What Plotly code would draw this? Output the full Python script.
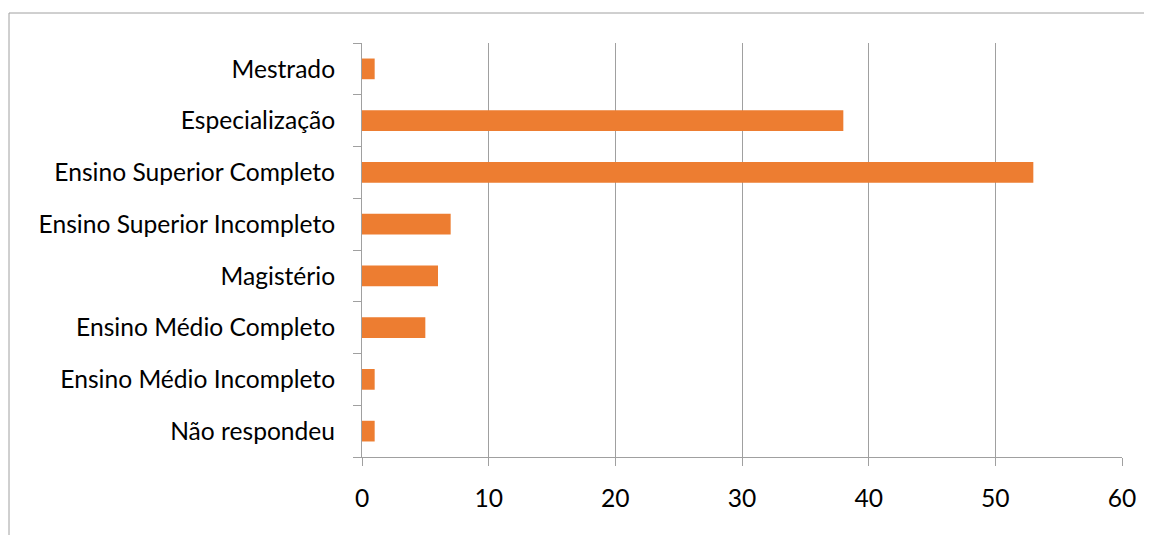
import plotly.graph_objects as go

categories = ["Não respondeu", "Ensino Médio Incompleto", "Ensino Médio Completo",
              "Magistério", "Ensino Superior Incompleto", "Ensino Superior Completo",
              "Especialização", "Mestrado"]
values = [1, 1, 5, 6, 7, 53, 38, 1]
x_ticks = [0, 10, 20, 30, 40, 50, 60]

fig = go.Figure(go.Bar(
    x=values, y=categories, orientation="h",
    marker=dict(color="#ED7D31", line=dict(width=0)),
))

fig.update_layout(
    width=1144, height=527,
    margin=dict(l=354, r=30, t=35, b=78),
    paper_bgcolor="white", plot_bgcolor="white",
    bargap=0.6, showlegend=False,
    font=dict(family="Lato", size=24.6, color="#000000"),
)
fig.update_xaxes(
    range=[0, 60], tickvals=x_ticks, showgrid=True, gridcolor="#A0A0A0", gridwidth=1,
    showline=True, linecolor="#A0A0A0", linewidth=1,
    ticks="outside", ticklen=8, tickcolor="#A0A0A0",
    zeroline=False, ticklabelstandoff=11,
)
fig.update_yaxes(
    categoryorder="array", categoryarray=categories,
    showline=True, linecolor="#A0A0A0", linewidth=1,
    ticks="outside", ticklen=8, tickcolor="#A0A0A0", tickson="boundaries",
    showgrid=False, ticklabelstandoff=21,
)
bx0 = -353 / 760
by1 = 1 + 30 / 414
bx1 = 1.06
by0 = -0.3
fig.add_shape(type="line", xref="paper", yref="paper",
              x0=bx0, x1=bx0, y0=by0, y1=by1,
              line=dict(color="#A0A0A0", width=1))
fig.add_shape(type="line", xref="paper", yref="paper",
              x0=bx0, x1=bx1, y0=by1, y1=by1,
              line=dict(color="#A0A0A0", width=1))

fig.write_html("out.html")
